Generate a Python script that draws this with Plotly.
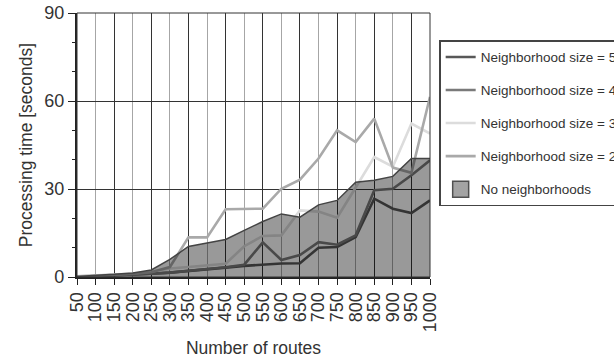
import plotly.graph_objects as go

# Number of routes in each test instance
routes = [50, 100, 150, 200, 250, 300, 350, 400, 450, 500,
          550, 600, 650, 700, 750, 800, 850, 900, 950, 1000]

# Processing time in seconds for each configuration
no_neighborhoods = [0.2, 0.5, 0.9, 1.4, 2.4, 6.0, 10.4, 11.6, 12.8, 15.9,
                    18.9, 21.5, 20.4, 24.6, 26.1, 32.3, 33.0, 34.3, 40.4, 40.4]
size_5 = [0.1, 0.3, 0.5, 0.8, 1.1, 1.5, 2.0, 2.5, 3.2, 3.8,
          4.3, 4.6, 4.7, 10.0, 10.2, 13.6, 26.7, 23.3, 21.8, 26.1]
size_4 = [0.1, 0.3, 0.5, 0.8, 1.1, 1.5, 2.1, 2.7, 3.3, 4.2,
          11.8, 5.8, 7.5, 11.9, 11.0, 14.2, 29.6, 30.1, 34.7, 39.8]
size_3 = [0.2, 0.5, 0.8, 1.2, 1.9, 2.9, 3.4, 4.0, 4.5, 10.5,
          14.0, 14.2, 22.7, 22.3, 20.2, 30.5, 40.9, 37.6, 52.3, 48.9]
size_2 = [0.2, 0.4, 0.7, 1.0, 1.6, 3.4, 13.5, 13.5, 23.1, 23.1,
          23.3, 30.1, 33.2, 40.4, 50.0, 46.0, 54.0, 37.3, 35.5, 61.4]

y_ticks = [0, 30, 60, 90]

FONT = "Liberation Sans, Arial, sans-serif"
TEXT = "#333333"

fig = go.Figure()

# Baseline as a shaded area (translucent so the grid shows through it)
fig.add_trace(go.Scatter(
    x=routes, y=no_neighborhoods, mode="lines", fill="tozeroy",
    fillcolor="rgba(0,0,0,0.4)", line=dict(color="#444444", width=1.5),
    name="No neighborhoods", legendgroup="none", showlegend=False,
    xaxis="x2", hoverinfo="x+y+name",
))

series = [
    ("Neighborhood size = 5", size_5, "#585858", 1),
    ("Neighborhood size = 4", size_4, "#7a7a7a", 2),
    ("Neighborhood size = 3", size_3, "#dcdcdc", 3),
    ("Neighborhood size = 2", size_2, "#a9a9a9", 4),
]
for name, vals, color, rank in series:
    fig.add_trace(go.Scatter(
        x=routes, y=vals, mode="lines", name=name,
        line=dict(color=color, width=2.6),
        legendgroup=name, legendrank=rank,
    ))

# Square legend swatch for the shaded baseline
fig.add_trace(go.Scatter(
    x=[None], y=[None], mode="markers", name="No neighborhoods",
    marker=dict(symbol="square", size=16, color="#a3a3a3",
                line=dict(color="#505050", width=1.5)),
    legendgroup="none", legendrank=5, hoverinfo="skip",
))

fig.update_layout(
    width=614, height=360,
    margin=dict(l=77, r=184, t=13, b=83, autoexpand=False),
    paper_bgcolor="white", plot_bgcolor="white",
    font=dict(family=FONT, size=18, color=TEXT),
    showlegend=True,
    legend=dict(
        x=1.026, xanchor="left", y=0.897, yanchor="top",
        bordercolor="#444444", borderwidth=1.5, bgcolor="white",
        font=dict(family=FONT, size=13.5, color=TEXT),
        traceorder="grouped", tracegroupgap=12.5,
        itemsizing="trace",
    ),
    xaxis=dict(
        range=[routes[0], routes[-1]], tickmode="array",
        tickvals=routes, ticktext=[str(r) for r in routes],
        tickangle=-90, ticks="outside", ticklen=6, tickwidth=1.2,
        tickcolor="#222222", showgrid=True, gridcolor="#a6a6a6", gridwidth=1,
        showline=True, linecolor="#222222", linewidth=2.2, zeroline=False,
        title=dict(text="Number of routes", font=dict(size=17.5), standoff=10),
    ),
    xaxis2=dict(
        overlaying="x", matches="x", range=[routes[0], routes[-1]],
        tickmode="array", tickvals=routes[0::2], showticklabels=False,
        ticks="", showgrid=True, gridcolor="#333333", gridwidth=1,
        showline=False, zeroline=False,
    ),
    yaxis=dict(
        range=[0, 90], tickmode="array", tickvals=y_ticks,
        ticks="outside", ticklen=7, tickwidth=1.2, tickcolor="#222222",
        minor=dict(dtick=10, ticks="outside", ticklen=3, tickcolor="#222222",
                   showgrid=False),
        showgrid=True, gridcolor="#333333", gridwidth=1,
        showline=True, linecolor="#222222", linewidth=2.2, zeroline=False,
        title=dict(text="Processing time [seconds]", font=dict(size=17.5),
                   standoff=7),
    ),
    shapes=[dict(type="rect", xref="x domain", yref="y domain",
                 x0=0, x1=1, y0=0, y1=1,
                 line=dict(color="#333333", width=1), layer="above")],
)

fig.write_html("out.html")
